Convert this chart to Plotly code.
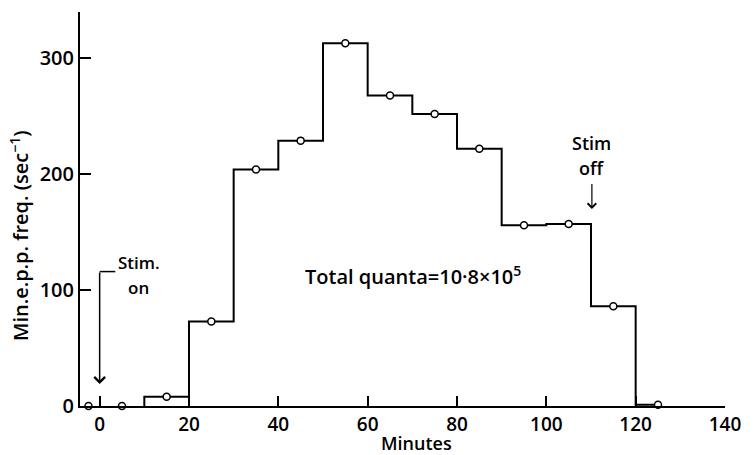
import plotly.graph_objects as go

# Data
bin_starts = [10, 20, 30, 40, 50, 60, 70, 80, 90, 100, 110, 120]
bin_width = 10
freq = [8, 73, 204, 229, 313, 268, 252, 222, 156, 157, 86, 1]
control_x = [-2.5, 5]
control_y = [0, 0]
x_ticks = [0, 20, 40, 60, 80, 100, 120, 140]
y_ticks = [0, 100, 200, 300]

FONT = "Open Sans"
M_L, M_R, M_T, M_B = 80, 17, 12, 49
W, H = 753, 455

step_x = [bin_starts[0]] + bin_starts + [bin_starts[-1] + bin_width / 2]
step_y = [0] + freq + [freq[-1]]
centers = [s + bin_width / 2 for s in bin_starts]

fig = go.Figure()
fig.add_trace(go.Scatter(x=step_x, y=step_y, mode="lines",
                         line=dict(shape="hv", color="black", width=2),
                         hoverinfo="skip", cliponaxis=False))
fig.add_trace(go.Scatter(x=control_x + centers, y=control_y + freq, mode="markers",
                         marker=dict(size=7, color="white",
                                     line=dict(color="black", width=1.5)),
                         cliponaxis=False))

# Stim on arrow (L-shaped)
fig.add_shape(type="line", x0=0, x1=3.5, y0=116, y1=116, xref="x", yref="y",
              line=dict(color="black", width=1.5))
fig.add_annotation(x=0, y=19, ax=0, ay=116.5, xref="x", yref="y", axref="x", ayref="y",
                   text="", showarrow=True, arrowhead=4, arrowsize=1.4,
                   arrowwidth=1.5, arrowcolor="black")
fig.add_annotation(x=8.8, y=124, text="Stim.", showarrow=False,
                   font=dict(family=FONT, size=17, color="black", weight=600))
fig.add_annotation(x=8.8, y=102, text="on", showarrow=False,
                   font=dict(family=FONT, size=17, color="black", weight=600))

# Stim off arrow (attached to the "off" label)
fig.add_annotation(x=110.2, y=170, ax=110.2, ay=205, xref="x", yref="y",
                   axref="x", ayref="y", text="off", showarrow=True,
                   arrowhead=4, arrowsize=1.4, arrowwidth=1.2, arrowcolor="black",
                   startstandoff=2,
                   font=dict(family=FONT, size=18, color="black", weight=600))
fig.add_annotation(x=110.2, y=227, text="Stim", showarrow=False,
                   font=dict(family=FONT, size=18, color="black", weight=600))

# Total quanta
fig.add_annotation(x=70.1, y=113, text="Total quanta=10·8×10<sup>5</sup>",
                   showarrow=False,
                   font=dict(family=FONT, size=20, color="black", weight=600))

# Axis titles as annotations
fig.add_annotation(x=71, y=-M_B / (H - M_T - M_B), xref="x", yref="paper",
                   yshift=-1, borderpad=0,
                   text="Minutes", showarrow=False, yanchor="bottom",
                   font=dict(family=FONT, size=18, color="black", weight=600))
fig.add_annotation(x=-0.094, y=147, xref="paper", yref="y",
                   text="Min.e.p.p. freq. (sec<sup>−1</sup>)", textangle=-90,
                   showarrow=False, xanchor="center",
                   font=dict(family=FONT, size=20, color="black", weight=600))

fig.update_layout(
    width=W, height=H,
    margin=dict(l=M_L, r=M_R, t=M_T, b=M_B),
    paper_bgcolor="white", plot_bgcolor="white",
    showlegend=False,
    font=dict(family=FONT, color="black"),
)

fig.update_xaxes(range=[-4.4, 140], tickvals=x_ticks, ticks="inside", ticklen=10,
                 tickwidth=2, tickcolor="black", showline=True, linecolor="black",
                 linewidth=2, showgrid=False, zeroline=False,
                 ticklabeloverflow="allow", ticklabelstandoff=0,
                 tickfont=dict(family=FONT, size=19, color="black", weight=600))
fig.update_yaxes(range=[0, 340], tickvals=y_ticks, ticks="inside", ticklen=11,
                 tickwidth=2, tickcolor="black", showline=True, linecolor="black",
                 linewidth=2, showgrid=False, zeroline=False,
                 tickfont=dict(family=FONT, size=20, color="black", weight=600))

fig.write_html("out.html")
